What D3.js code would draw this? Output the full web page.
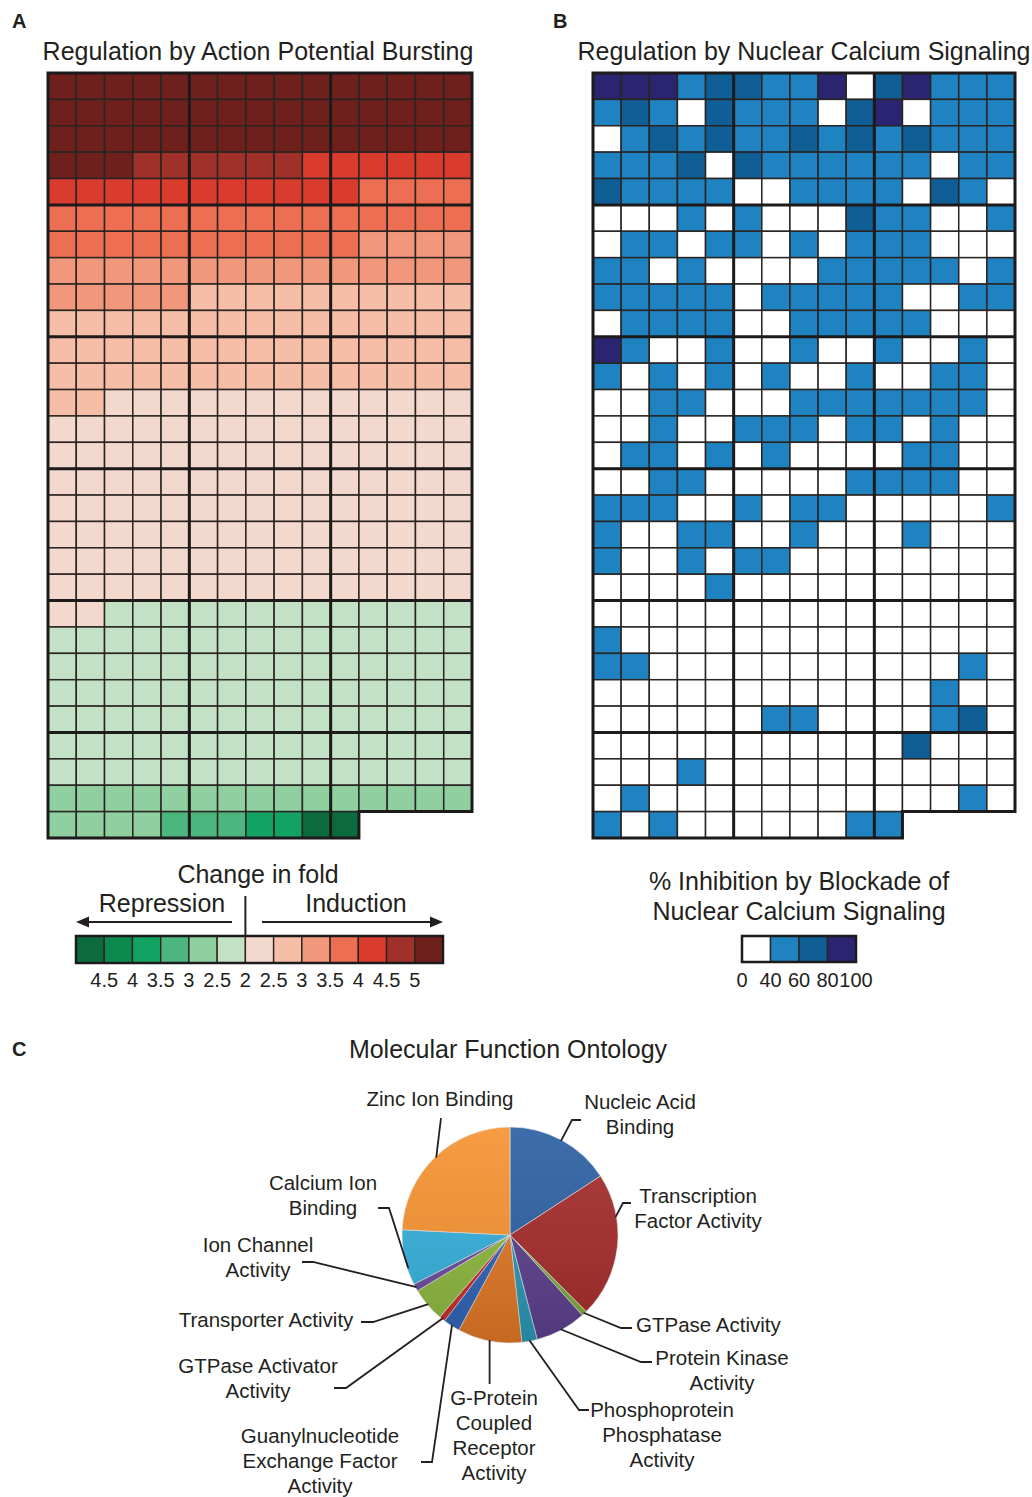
<!DOCTYPE html>
<html>
<head>
<meta charset="utf-8">
<script src="https://cdn.jsdelivr.net/npm/d3@7"></script>
<style>
  html, body { margin: 0; padding: 0; background: #fff; }
  svg { display: block; font-family: "Liberation Sans", Arial, Helvetica, sans-serif; }
</style>
</head>
<body>
<svg id="fig" width="1032" height="1497"></svg>
<script>
// ---- Panel A: fold change per gene (positive = induction, negative = repression), 15 genes per row
const foldRows = [
  [5.4,5.4,5.4,5.4,5.4,5.4,5.4,5.4,5.4,5.4,5.4,5.4,5.4,5.4,5.4],
  [5.3,5.3,5.3,5.3,5.3,5.3,5.3,5.3,5.3,5.3,5.3,5.3,5.3,5.3,5.3],
  [5.1,5.1,5.1,5.1,5.1,5.1,5.1,5.1,5.1,5.1,5.1,5.1,5.1,5.1,5.1],
  [5.0,5.0,5.0,4.8,4.8,4.8,4.8,4.8,4.8,4.4,4.4,4.4,4.4,4.4,4.4],
  [4.3,4.3,4.3,4.3,4.3,4.3,4.3,4.3,4.3,4.3,4.2,3.9,3.9,3.9,3.9],
  [3.8,3.8,3.8,3.8,3.8,3.8,3.8,3.8,3.8,3.8,3.8,3.8,3.8,3.8,3.8],
  [3.6,3.6,3.6,3.6,3.6,3.6,3.6,3.6,3.6,3.6,3.6,3.4,3.4,3.4,3.4],
  [3.3,3.3,3.3,3.3,3.3,3.3,3.3,3.3,3.3,3.3,3.3,3.3,3.3,3.3,3.3],
  [3.1,3.1,3.1,3.1,3.1,2.9,2.9,2.9,2.9,2.9,2.9,2.9,2.9,2.9,2.9],
  [2.8,2.8,2.8,2.8,2.8,2.8,2.8,2.8,2.8,2.8,2.8,2.8,2.8,2.8,2.8],
  [2.7,2.7,2.7,2.7,2.7,2.7,2.7,2.7,2.7,2.7,2.7,2.7,2.7,2.7,2.7],
  [2.6,2.6,2.6,2.6,2.6,2.6,2.6,2.6,2.6,2.6,2.6,2.6,2.6,2.6,2.6],
  [2.5,2.5,2.4,2.4,2.4,2.4,2.4,2.4,2.4,2.4,2.4,2.4,2.4,2.4,2.4],
  [2.3,2.3,2.3,2.3,2.3,2.3,2.3,2.3,2.3,2.3,2.3,2.3,2.3,2.3,2.3],
  [2.3,2.3,2.3,2.3,2.3,2.3,2.3,2.3,2.3,2.3,2.3,2.3,2.3,2.3,2.3],
  [2.2,2.2,2.2,2.2,2.2,2.2,2.2,2.2,2.2,2.2,2.2,2.2,2.2,2.2,2.2],
  [2.2,2.2,2.2,2.2,2.2,2.2,2.2,2.2,2.2,2.2,2.2,2.2,2.2,2.2,2.2],
  [2.1,2.1,2.1,2.1,2.1,2.1,2.1,2.1,2.1,2.1,2.1,2.1,2.1,2.1,2.1],
  [2.1,2.1,2.1,2.1,2.1,2.1,2.1,2.1,2.1,2.1,2.1,2.1,2.1,2.1,2.1],
  [2.0,2.0,2.0,2.0,2.0,2.0,2.0,2.0,2.0,2.0,2.0,2.0,2.0,2.0,2.0],
  [2.0,2.0,-2.0,-2.0,-2.0,-2.0,-2.0,-2.0,-2.0,-2.0,-2.0,-2.0,-2.0,-2.0,-2.0],
  [-2.1,-2.1,-2.1,-2.1,-2.1,-2.1,-2.1,-2.1,-2.1,-2.1,-2.1,-2.1,-2.1,-2.1,-2.1],
  [-2.1,-2.1,-2.1,-2.1,-2.1,-2.1,-2.1,-2.1,-2.1,-2.1,-2.1,-2.1,-2.1,-2.1,-2.1],
  [-2.2,-2.2,-2.2,-2.2,-2.2,-2.2,-2.2,-2.2,-2.2,-2.2,-2.2,-2.2,-2.2,-2.2,-2.2],
  [-2.3,-2.3,-2.3,-2.3,-2.3,-2.3,-2.3,-2.3,-2.3,-2.3,-2.3,-2.3,-2.3,-2.3,-2.3],
  [-2.3,-2.3,-2.3,-2.3,-2.3,-2.3,-2.3,-2.3,-2.3,-2.3,-2.3,-2.3,-2.3,-2.3,-2.3],
  [-2.4,-2.4,-2.4,-2.4,-2.4,-2.4,-2.4,-2.4,-2.4,-2.4,-2.4,-2.4,-2.4,-2.4,-2.4],
  [-2.7,-2.7,-2.7,-2.7,-2.7,-2.7,-2.7,-2.7,-2.7,-2.7,-2.7,-2.7,-2.7,-2.7,-2.7],
  [-2.8,-2.8,-2.8,-2.9,-3.2,-3.3,-3.3,-3.7,-3.8,-4.7,-4.8]
];
const foldThresholds = [-4.5, -4, -3.5, -3, -2.5, 0, 2.5, 3, 3.5, 4, 4.5, 5];
const foldColors = ["#0b6b3c", "#0c8a4e", "#12a261", "#4db67e", "#8fcfa0", "#c3e1c4",
                    "#f3d9cd", "#f6bea6", "#f1977b", "#ec6f53", "#d93b2d", "#a0302a", "#6f1f1c"];
const foldTickLabels = ["4.5", "4", "3.5", "3", "2.5", "2", "2.5", "3", "3.5", "4", "4.5", "5"];

// ---- Panel B: % inhibition of the same genes by blockade of nuclear calcium signaling
const inhibitionRows = [
  [90,90,90,50,70,70,50,50,90,20,70,90,50,50,50],
  [50,70,50,20,70,50,50,50,20,70,90,20,50,50,50],
  [20,50,70,50,70,50,50,70,50,70,50,70,50,50,50],
  [50,50,50,70,20,70,50,50,50,50,50,50,20,50,50],
  [70,50,50,50,50,20,20,50,50,50,50,20,70,50,20],
  [20,20,20,50,20,50,20,20,20,70,50,50,20,20,50],
  [20,50,50,20,50,50,20,50,20,50,50,50,20,20,20],
  [50,50,20,50,20,20,20,20,50,50,50,50,50,20,50],
  [50,50,50,50,50,20,50,50,50,50,50,20,20,50,50],
  [20,50,50,50,50,20,20,50,50,50,50,50,20,20,20],
  [90,50,20,20,50,20,20,50,20,20,50,20,20,50,20],
  [50,20,50,20,50,20,50,20,20,50,20,20,50,50,20],
  [20,20,50,50,20,20,20,50,50,50,50,50,50,50,20],
  [20,20,50,20,20,50,50,50,20,50,50,20,50,20,20],
  [20,50,50,20,50,20,50,20,20,20,20,50,50,20,20],
  [20,20,50,50,20,20,20,20,20,50,50,50,50,20,20],
  [50,50,50,20,20,50,20,50,50,20,20,20,20,20,50],
  [50,20,20,50,50,20,20,50,20,20,20,50,20,20,20],
  [50,20,20,50,20,50,50,20,20,20,20,20,20,20,20],
  [20,20,20,20,50,20,20,20,20,20,20,20,20,20,20],
  [20,20,20,20,20,20,20,20,20,20,20,20,20,20,20],
  [50,20,20,20,20,20,20,20,20,20,20,20,20,20,20],
  [50,50,20,20,20,20,20,20,20,20,20,20,20,50,20],
  [20,20,20,20,20,20,20,20,20,20,20,20,50,20,20],
  [20,20,20,20,20,20,50,50,20,20,20,20,50,70,20],
  [20,20,20,20,20,20,20,20,20,20,20,70,20,20,20],
  [20,20,20,50,20,20,20,20,20,20,20,20,20,20,20],
  [20,50,20,20,20,20,20,20,20,20,20,20,20,50,20],
  [50,20,50,20,20,20,20,20,20,50,50]
];
const inhibitionThresholds = [40, 60, 80];
const inhibitionColors = ["#ffffff", "#1f82c1", "#0f5e95", "#2b2470"];
const inhibitionTicks = ["0", "40", "60", "80", "100"];

// ---- Panel C: molecular function ontology (share of genes, %)
const ontologyTerms = ["Nucleic Acid Binding", "Transcription Factor Activity", "GTPase Activity",
  "Protein Kinase Activity", "Phosphoprotein Phosphatase Activity", "G-Protein Coupled Receptor Activity",
  "Guanylnucleotide Exchange Factor Activity", "GTPase Activator Activity", "Transporter Activity",
  "Ion Channel Activity", "Calcium Ion Binding", "Zinc Ion Binding"];
const ontologyShares = [15.8, 21.7, 0.8, 7.6, 2.3, 9.6, 2.5, 0.9, 5.1, 1.1, 8.3, 24.2];
const ontologyColors = ["#2c60a2", "#a52b2b", "#7ea83a", "#5c3f8c", "#2b96b3", "#e07726",
  "#2f63b6", "#c42d2a", "#8db83f", "#6a4b9e", "#35b0dc", "#f59331"];

// ------------------------------------------------------------------
const svg = d3.select("#fig");
const FONT = 25;

function text(g, x, y, str, opts = {}) {
  return g.append("text")
    .attr("x", x).attr("y", y)
    .attr("text-anchor", opts.anchor || "middle")
    .attr("font-size", opts.size || FONT)
    .attr("font-weight", opts.weight || "normal")
    .attr("fill", opts.fill || "#231f20")
    .text(str);
}

function heatmap(rows, color, x0, x1, y0, y1) {
  const nCols = 15, nRows = rows.length;
  const xs = d3.scaleBand().domain(d3.range(nCols)).range([x0, x1]);
  const ys = d3.scaleBand().domain(d3.range(nRows)).range([y0, y1]);
  const g = svg.append("g");

  rows.forEach((row, r) => {
    g.selectAll(null).data(row).join("rect")
      .attr("x", (d, c) => xs(c))
      .attr("y", ys(r))
      .attr("width", xs.bandwidth())
      .attr("height", ys.bandwidth())
      .attr("fill", d => color(d))
      .attr("stroke", "#2a2523")
      .attr("stroke-width", 1.5);
  });

  const lastLen = rows[nRows - 1].length;
  const fullBottom = ys(nRows - 1);
  // block separators every five genes
  for (let r = 5; r < nRows; r += 5) {
    g.append("line").attr("x1", x0).attr("x2", x1).attr("y1", ys(r)).attr("y2", ys(r))
      .attr("stroke", "#1c1a1a").attr("stroke-width", 3);
  }
  [5, 10].forEach(c => {
    const bottom = c < lastLen ? y1 : fullBottom;
    g.append("line").attr("x1", xs(c)).attr("x2", xs(c)).attr("y1", y0).attr("y2", bottom)
      .attr("stroke", "#1c1a1a").attr("stroke-width", 3);
  });
  const xe = xs(lastLen - 1) + xs.bandwidth();
  g.append("path")
    .attr("d", `M${x0},${y0}H${x1}V${fullBottom}H${xe}V${y1}H${x0}Z`)
    .attr("fill", "none").attr("stroke", "#1c1a1a").attr("stroke-width", 3);
}

// ---- Panel A
const foldScale = d3.scaleThreshold().domain(foldThresholds).range(foldColors);
text(svg, 12, 28, "A", { anchor: "start", size: 20, weight: "bold" });
text(svg, 258, 60, "Regulation by Action Potential Bursting");
heatmap(foldRows, foldScale, 48, 472, 73, 838);

// fold legend
{
  const g = svg.append("g");
  const lx = d3.scaleBand().domain(d3.range(foldColors.length)).range([76, 443]);
  const ly = 936, lh = 27;
  g.selectAll(null).data(foldColors).join("rect")
    .attr("x", (d, i) => lx(i)).attr("y", ly)
    .attr("width", lx.bandwidth()).attr("height", lh)
    .attr("fill", d => d).attr("stroke", "#2a2523").attr("stroke-width", 1.4);
  g.append("rect").attr("x", 76).attr("y", ly).attr("width", 443 - 76).attr("height", lh)
    .attr("fill", "none").attr("stroke", "#1c1a1a").attr("stroke-width", 2.5);
  g.selectAll(null).data(foldTickLabels).join("text")
    .attr("x", (d, i) => lx(i + 1)).attr("y", 987)
    .attr("text-anchor", "middle").attr("font-size", 20).attr("fill", "#231f20")
    .text(d => d);

  const mid = lx(6);
  text(g, 258, 883, "Change in fold");
  text(g, 162, 912, "Repression");
  text(g, 356, 912, "Induction");
  g.append("line").attr("x1", mid).attr("x2", mid).attr("y1", 896).attr("y2", ly)
    .attr("stroke", "#231f20").attr("stroke-width", 2);
  const arrow = (xa, xb) => {
    const dir = Math.sign(xb - xa);
    g.append("line").attr("x1", xa).attr("x2", xb - dir * 8).attr("y1", 922).attr("y2", 922)
      .attr("stroke", "#231f20").attr("stroke-width", 2);
    g.append("path")
      .attr("d", `M${xb},922L${xb - dir * 13},916.5L${xb - dir * 13},927.5Z`)
      .attr("fill", "#231f20");
  };
  arrow(232, 76);
  arrow(262, 443);
}

// ---- Panel B
const inhibitionScale = d3.scaleThreshold().domain(inhibitionThresholds).range(inhibitionColors);
text(svg, 553, 28, "B", { anchor: "start", size: 20, weight: "bold" });
text(svg, 804, 60, "Regulation by Nuclear Calcium Signaling");
heatmap(inhibitionRows, inhibitionScale, 593, 1015, 73, 838);

{
  const g = svg.append("g");
  text(g, 799, 890, "% Inhibition by Blockade of");
  text(g, 799, 920, "Nuclear Calcium Signaling");
  const lx = d3.scaleBand().domain(d3.range(inhibitionColors.length)).range([742, 856]);
  const ly = 936, lh = 26;
  g.selectAll(null).data(inhibitionColors).join("rect")
    .attr("x", (d, i) => lx(i)).attr("y", ly)
    .attr("width", lx.bandwidth()).attr("height", lh)
    .attr("fill", d => d).attr("stroke", "#2a2523").attr("stroke-width", 1.4);
  g.append("rect").attr("x", 742).attr("y", ly).attr("width", 856 - 742).attr("height", lh)
    .attr("fill", "none").attr("stroke", "#1c1a1a").attr("stroke-width", 2.5);
  g.selectAll(null).data(inhibitionTicks).join("text")
    .attr("x", (d, i) => i < inhibitionColors.length ? lx(i) : 856)
    .attr("y", 987)
    .attr("text-anchor", "middle").attr("font-size", 20).attr("fill", "#231f20")
    .text(d => d);
}

// ---- Panel C
text(svg, 12, 1056, "C", { anchor: "start", size: 20, weight: "bold" });
text(svg, 508, 1058, "Molecular Function Ontology");
{
  const cx = 510, cy = 1235, R = 108;
  const g = svg.append("g").attr("transform", `translate(${cx},${cy})`);
  const defs = svg.append("defs");
  const shade = defs.append("linearGradient").attr("id", "pieShade")
    .attr("x1", 0).attr("y1", 0).attr("x2", 0).attr("y2", 1);
  shade.append("stop").attr("offset", "0%").attr("stop-color", "#fff").attr("stop-opacity", 0.08);
  shade.append("stop").attr("offset", "100%").attr("stop-color", "#000").attr("stop-opacity", 0.12);

  const pie = d3.pie().sort(null).value(d => d)(ontologyShares);
  const arc = d3.arc().innerRadius(0).outerRadius(R);
  g.selectAll(null).data(pie).join("path")
    .attr("d", arc)
    .attr("fill", (d, i) => ontologyColors[i])
    .attr("stroke", "#e8e8e8").attr("stroke-width", 0.6);
  g.append("circle").attr("r", R).attr("fill", "url(#pieShade)");

  // label placement: text anchor, baselines, leader elbow and end
  const labelLayout = [
    { lines: ["Nucleic Acid", "Binding"], x: 640, y: 1109, path: [[572, 1120], [581, 1120]] },
    { lines: ["Transcription", "Factor Activity"], x: 698, y: 1203, at: 0.3, path: [[623, 1203], [631, 1203]] },
    { lines: ["GTPase Activity"], x: 636, y: 1332, anchor: "start", path: [[621, 1328], [632, 1328]] },
    { lines: ["Protein Kinase", "Activity"], x: 722, y: 1365, path: [[641, 1362], [652, 1362]] },
    { lines: ["Phosphoprotein", "Phosphatase", "Activity"], x: 662, y: 1417, path: [[579, 1410], [589, 1410]] },
    { lines: ["G-Protein", "Coupled", "Receptor", "Activity"], x: 494, y: 1405, path: [[null, 1384]] },
    { lines: ["Guanylnucleotide", "Exchange Factor", "Activity"], x: 320, y: 1443, path: [[432, 1462], [421, 1462]] },
    { lines: ["GTPase Activator", "Activity"], x: 258, y: 1373, path: [[346, 1388], [334, 1388]] },
    { lines: ["Transporter Activity"], x: 266, y: 1327, path: [[373, 1322], [361, 1322]] },
    { lines: ["Ion Channel", "Activity"], x: 258, y: 1252, path: [[313, 1262], [302, 1262]] },
    { lines: ["Calcium Ion", "Binding"], x: 323, y: 1190, at: 0.3, path: [[389, 1208], [378, 1208]] },
    { lines: ["Zinc Ion Binding"], x: 440, y: 1106, path: [[441, 1118]] }
  ];
  const lg = svg.append("g");
  pie.forEach((s, i) => {
    const L = labelLayout[i];
    const t = L.at === undefined ? 0.5 : L.at;
    const a = s.startAngle + (s.endAngle - s.startAngle) * t;
    const sx = cx + (R - 1) * Math.sin(a), sy = cy - (R - 1) * Math.cos(a);
    const pts = [[sx, sy]].concat(L.path.map(p => [p[0] === null ? sx : p[0], p[1]]));
    lg.append("path").attr("d", d3.line()(pts))
      .attr("fill", "none").attr("stroke", "#231f20").attr("stroke-width", 1.8);
    L.lines.forEach((ln, k) => {
      text(lg, L.x, L.y + k * 25, ln, { size: 20.5, anchor: L.anchor || "middle" });
    });
  });
}
</script>
</body>
</html>
